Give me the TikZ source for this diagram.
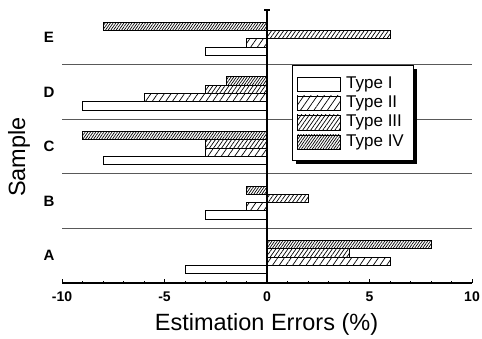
\documentclass[tikz,border=0pt]{standalone}
\usepackage{fontspec}
\setmainfont{Liberation Sans}
\usetikzlibrary{patterns.meta}
\begin{document}
\begin{tikzpicture}[x=1pt,y=1pt,
  bar/.style={draw=black, line width=0.9pt},
  tI/.style={bar, fill=white},
  tII/.style={bar, pattern={Lines[angle=55,distance=5.5pt,line width=0.7pt]}, pattern color=black},
  tIII/.style={bar, pattern={Lines[angle=55,distance=3.3pt,line width=0.7pt]}, pattern color=black},
  tIV/.style={bar, pattern={Lines[angle=55,distance=2.2pt,line width=0.7pt]}, pattern color=black},
  sep/.style={draw=black!65, line width=0.8pt},
  axisline/.style={draw=black, line width=1.1pt},
  ticklab/.style={font=\fontsize{14}{14}\selectfont\bfseries, inner sep=0pt},
  cat/.style={font=\fontsize{15}{15}\selectfont\bfseries, inner sep=0pt},
  axlab/.style={font=\fontsize{23.5}{24}\selectfont, inner sep=0pt},
  leg/.style={font=\fontsize{17}{17}\selectfont, anchor=west, inner sep=0pt}
]
\useasboundingbox (0,0) rectangle (482,338);

% separators
\foreach \k in {1,...,4}
  \draw[sep] (62,{55+54.6*\k}) -- (472,{55+54.6*\k});

% bars
\foreach \k/\a/\b/\c/\d/\lab in {0/-4/6/4/8/A, 1/-3/-1/2/-1/B, 2/-8/-3/-3/-9/C, 3/-9/-6/-3/-2/D, 4/-3/-1/6/-8/E} {
  \pgfmathsetmacro\cy{55+(\k+0.5)*54.6-1.5}
  \draw[tI]   (267,{\cy-16.6}) rectangle ({267+20.5*\a},{\cy-8.3});
  \draw[tII]  (267,{\cy-8.3})  rectangle ({267+20.5*\b},{\cy});
  \draw[tIII] (267,{\cy})      rectangle ({267+20.5*\c},{\cy+8.3});
  \draw[tIV]  (267,{\cy+8.3})  rectangle ({267+20.5*\d},{\cy+16.6});
  \node[cat] (lab\lab) at (49,{\cy+1.5}) {\lab};
}

% axes
\draw[axisline] (62,55) -- (472,55);
\foreach \v in {-10,...,10}
  \draw[line width=0.8pt] ({267+20.5*\v},55) -- ({267+20.5*\v},57);
\foreach \v in {-10,-5,0,5,10} {
  \draw[line width=0.9pt] ({267+20.5*\v},55) -- ({267+20.5*\v},59.5);
  \node[ticklab] (t\v) at ({267+20.5*\v},41) {\v};
}
\draw[axisline] (267,55) -- (267,328);
\draw[axisline] (264,328) -- (270,328);

\node[axlab, anchor=base] (xl) at (266.5,8) {Estimation Errors (\%)};
\node[axlab, anchor=base, rotate=90] (yl) at (25,181) {Sample};

% legend
\fill[black] (296,174) rectangle (417,269);
\draw[fill=white, line width=0.9pt] (292,178) rectangle (413,273);
\draw[tI]   (297,247) rectangle (340,261);
\draw[tII]  (297,228) rectangle (340,242);
\draw[tIII] (297,208) rectangle (340,223);
\draw[tIV]  (297,189) rectangle (340,203);
\node[leg] (l1) at (346,254) {Type I};
\node[leg] (l2) at (346,235) {Type II};
\node[leg] (l3) at (346,215.5) {Type III};
\node[leg] (l4) at (346,196) {Type IV};
\end{tikzpicture}
\end{document}
